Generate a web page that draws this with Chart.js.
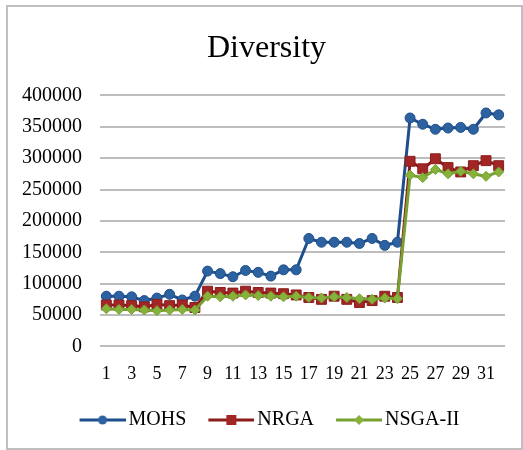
<!DOCTYPE html>
<html>
<head>
<meta charset="utf-8">
<script src="https://cdn.jsdelivr.net/npm/chart.js@4"></script>
<style>
  html, body { margin: 0; padding: 0; background: #fff; }
  #wrap { position: relative; width: 523px; height: 450px; }
  #frame { position: absolute; left: 6px; top: 5px; width: 513px; height: 441px; border: 2px solid #bfbfbf; pointer-events: none; }
  canvas { position: absolute; left: 0; top: 0; }
</style>
</head>
<body>
<div id="wrap">
  <div id="frame"></div>
  <canvas id="chart" width="523" height="450"></canvas>
</div>
<script>
// ------------------------------------------
// DATA
// ------------------------------------------
const categories = ['1','2','3','4','5','6','7','8','9','10','11','12','13','14','15','16',
                    '17','18','19','20','21','22','23','24','25','26','27','28','29','30','31','32'];

const mohs = [80000, 80000, 79000, 73000, 77000, 83000, 74000, 80000,
              120000, 116000, 111000, 121000, 118000, 112000, 122000, 122000,
              172000, 166000, 166000, 166000, 164000, 172000, 161000, 166000,
              364000, 354000, 346000, 348000, 349000, 346000, 372000, 369000];

const nrga = [66000, 66000, 65000, 63000, 67000, 65000, 66000, 62000,
              88000, 86000, 85000, 88000, 86000, 85000, 84000, 82000,
              78000, 75000, 80000, 75000, 70000, 73000, 80000, 78000,
              295000, 283000, 299000, 285000, 278000, 288000, 296000, 288000];

const nsga2 = [60000, 59000, 59000, 58000, 57000, 58000, 59000, 58000,
               80000, 79000, 80000, 82000, 81000, 80000, 79000, 80000,
               78000, 77000, 79000, 78000, 76000, 75000, 77000, 76000,
               273000, 269000, 282000, 275000, 279000, 275000, 271000, 278000];

const yTicks = { min: 0, max: 400000, step: 50000 };

const SERIF = "'Liberation Serif', 'Times New Roman', serif";
const Y_OVERHANG = 24; // y labels hang left of the layout box so title/legend stay centred

// legend icon: a short line with the series marker in the middle
// (left part is left empty so the line sits close to the text)
function legendIcon(line, fill, shape) {
  const c = document.createElement('canvas');
  c.width = 59; c.height = 14;
  const g = c.getContext('2d');
  const x0 = 13, xm = 36;
  g.strokeStyle = line; g.lineWidth = 3;
  g.beginPath(); g.moveTo(x0, 7); g.lineTo(59, 7); g.stroke();
  g.fillStyle = fill;
  g.beginPath();
  if (shape === 'circle') g.arc(xm, 7, 4.5, 0, Math.PI * 2);
  else if (shape === 'rect') g.rect(xm - 5, 2, 10, 10);
  else { g.moveTo(xm, 2); g.lineTo(xm + 5, 7); g.lineTo(xm, 12); g.lineTo(xm - 5, 7); g.closePath(); }
  g.fill();
  return c;
}

const series = [
  { label: 'MOHS', data: mohs, line: '#1f4e8c', fill: '#2c62a0', shape: 'circle', r: 5, order: 2 },
  { label: 'NRGA', data: nrga, line: '#8c1c1c', fill: '#a32626', shape: 'rect', r: 7, order: 1 },
  { label: 'NSGA-II', data: nsga2, line: '#76a030', fill: '#86b23c', shape: 'rectRot', r: 5, order: 0 }
];

// widen the y scale's box leftwards after layout so its labels are not clipped
const yOverhang = {
  id: 'yOverhang',
  afterLayout(chart) { chart.scales.y.left -= Y_OVERHANG; }
};

new Chart(document.getElementById('chart'), {
  type: 'line',
  data: {
    labels: categories,
    datasets: series.map(s => ({
      label: s.label,
      data: s.data,
      order: s.order,
      borderColor: s.line,
      borderWidth: 3,
      backgroundColor: s.fill,
      pointStyle: s.shape,
      pointRadius: s.r,
      pointBackgroundColor: s.fill,
      pointBorderColor: s.line,
      pointBorderWidth: 1,
      tension: 0,
      legendIcon: legendIcon(s.line, s.fill, s.shape)
    }))
  },
  plugins: [yOverhang],
  options: {
    responsive: false,
    animation: false,
    layout: { padding: { top: 21, left: 28, right: 18, bottom: 10 } },
    scales: {
      x: {
        offset: true,
        grid: { display: false },
        border: { display: false },
        ticks: {
          autoSkip: false, maxRotation: 0, padding: 9, color: '#000',
          font: { family: SERIF, size: 18 },
          callback: function (val, idx) { return idx % 2 === 0 ? this.getLabelForValue(val) : ''; }
        }
      },
      y: {
        min: yTicks.min, max: yTicks.max,
        grid: { color: '#bdbdbd', lineWidth: 2, drawTicks: false },
        border: { display: false },
        afterFit: scale => { scale.width -= Y_OVERHANG; },
        ticks: {
          stepSize: yTicks.step, padding: 18, color: '#000',
          font: { family: SERIF, size: 20 },
          callback: v => String(v)
        }
      }
    },
    plugins: {
      title: {
        display: true, text: 'Diversity', color: '#000',
        font: { family: SERIF, size: 32, weight: 'normal' },
        padding: { top: 8, bottom: 28 }
      },
      legend: {
        position: 'bottom',
        labels: {
          usePointStyle: true, pointStyleWidth: 45, padding: 16, color: '#000',
          font: { family: SERIF, size: 20 },
          generateLabels: chart => chart.data.datasets.map((ds, i) => ({
            text: ds.label, datasetIndex: i, pointStyle: ds.legendIcon,
            fontColor: '#000', lineWidth: 0, strokeStyle: 'transparent', fillStyle: 'transparent'
          }))
        }
      },
      tooltip: { enabled: false }
    }
  }
});
</script>
</body>
</html>
